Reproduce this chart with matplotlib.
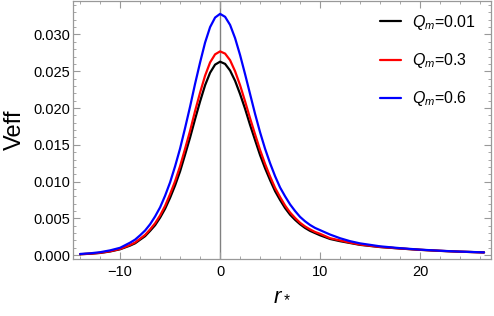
import matplotlib
matplotlib.use("Agg")
import matplotlib.pyplot as plt
from matplotlib.ticker import MultipleLocator, FormatStrFormatter

plt.rcParams['font.family'] = ['Liberation Sans', 'DejaVu Sans']
plt.rcParams['mathtext.fontset'] = 'custom'
plt.rcParams['mathtext.rm'] = 'Liberation Sans'
plt.rcParams['mathtext.it'] = 'Liberation Sans:italic'

# tortoise coordinate samples and effective potential
r_star = [-14, -13, -12, -11, -10, -9, -8.5, -8, -7.5, -7, -6.5, -6, -5.5, -5, -4.5, -4,
          -3.5, -3, -2.5, -2, -1.5, -1, -0.5, 0, 0.5, 1, 1.5, 2, 2.5, 3, 3.5, 4, 4.5, 5,
          5.5, 6, 6.5, 7, 7.5, 8, 8.5, 9, 9.5, 10, 11, 12, 13, 14, 15, 16, 18, 20, 22, 24, 26.4]

veff_001 = [0.00012, 0.00019, 0.0003, 0.0005, 0.0008, 0.0013, 0.00161, 0.0021, 0.00258, 0.0033,
            0.00407, 0.0051, 0.00631, 0.0078, 0.00948, 0.0114, 0.01367, 0.0160, 0.0185, 0.0209,
            0.0231, 0.0248, 0.0259, 0.0263, 0.0260, 0.0251, 0.0237, 0.0219, 0.0199, 0.0177,
            0.01564, 0.0136, 0.01181, 0.0102, 0.0087, 0.0075, 0.0064, 0.0055, 0.0048, 0.0042,
            0.0037, 0.0033, 0.0030, 0.0027, 0.0022, 0.0019, 0.00165, 0.0014, 0.00125, 0.0011,
            0.0009, 0.00072, 0.00058, 0.00047, 0.00037]

veff_03 = [0.00013, 0.0002, 0.00032, 0.00053, 0.00084, 0.00139, 0.00172, 0.00223, 0.00275, 0.0035,
           0.00433, 0.0054, 0.0067, 0.0083, 0.01005, 0.0121, 0.01447, 0.0169, 0.0196, 0.0221,
           0.0244, 0.0262, 0.0273, 0.0277, 0.0274, 0.0265, 0.0250, 0.0231, 0.0209, 0.0186,
           0.01642, 0.0143, 0.0124, 0.0107, 0.00915, 0.0079, 0.00675, 0.0058, 0.00506, 0.0044,
           0.0039, 0.0035, 0.00315, 0.0029, 0.0023, 0.0020, 0.0017, 0.00144, 0.00128, 0.00112,
           0.00091, 0.00073, 0.00059, 0.00047, 0.00037]

veff_06 = [0.00016, 0.00025, 0.0004, 0.00065, 0.0010, 0.0017, 0.00211, 0.0027, 0.00335, 0.0042,
           0.00526, 0.0065, 0.00808, 0.0099, 0.01208, 0.0145, 0.01729, 0.0202, 0.0233, 0.0262,
           0.0289, 0.0310, 0.0323, 0.0328, 0.0324, 0.0313, 0.0295, 0.0272, 0.0246, 0.0219,
           0.0192, 0.0167, 0.01446, 0.0125, 0.01074, 0.0092, 0.0080, 0.0069, 0.0060, 0.0052,
           0.0046, 0.0041, 0.0037, 0.0034, 0.0028, 0.0023, 0.0019, 0.0016, 0.0014, 0.0012,
           0.00095, 0.00075, 0.0006, 0.00048, 0.00038]

labels = [r'$Q_m$=0.01', r'$Q_m$=0.3', r'$Q_m$=0.6']
colors = ['black', 'red', 'blue']

fig = plt.figure(figsize=(4.94, 3.16), dpi=100)
ax = fig.add_axes([0.148, 0.180, 0.846, 0.818])

ax.axvline(0, color='#808080', lw=1.0, zorder=1)
for vals, lab, col in zip([veff_001, veff_03, veff_06], labels, colors):
    ax.plot(r_star, vals, color=col, lw=1.6, label=lab, zorder=3,
            solid_joinstyle='round', solid_capstyle='round')

ax.set_xlim(-14.7, 27.1)
ax.set_ylim(-0.00054, 0.0346)

ax.xaxis.set_major_locator(MultipleLocator(10))
ax.xaxis.set_minor_locator(MultipleLocator(2))
ax.yaxis.set_major_locator(MultipleLocator(0.005))
ax.yaxis.set_minor_locator(MultipleLocator(0.001))
ax.yaxis.set_major_formatter(FormatStrFormatter('%.3f'))

ax.tick_params(which='both', direction='in', top=True, right=True, color='#999999',
               labelsize=10.5, labelcolor='black')
ax.tick_params(which='major', length=5, width=0.8)
ax.tick_params(which='minor', length=2.5, width=0.6)
ax.tick_params(axis='y', pad=2)
ax.tick_params(axis='x', pad=4)
for sp in ax.spines.values():
    sp.set_color('#999999')
    sp.set_linewidth(0.9)

ax.set_xlabel(r'$r_*$', fontsize=16, labelpad=4)
ax.set_ylabel('Veff', fontsize=17, labelpad=5)

ax.legend(loc='upper right', bbox_to_anchor=(0.978, 0.977), frameon=False, fontsize=11.5,
          handlelength=1.3, handletextpad=0.65, labelspacing=1.2, borderaxespad=0)

fig.savefig('out.png', dpi=100)
